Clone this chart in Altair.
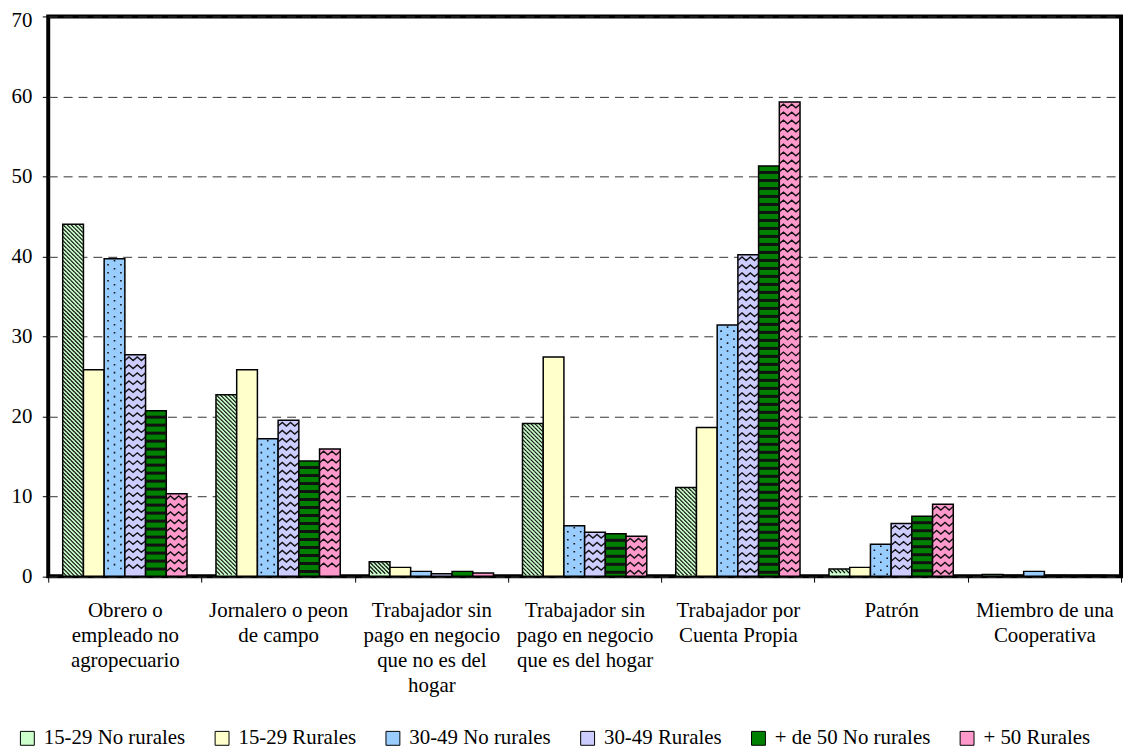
import altair as alt
import pandas as pd

# ---------------- data ----------------
categorias = [
    "Obrero o|empleado no|agropecuario",
    "Jornalero o peon|de campo",
    "Trabajador sin|pago en negocio|que no es del|hogar",
    "Trabajador sin|pago en negocio|que es del hogar",
    "Trabajador por|Cuenta Propia",
    "Patrón",
    "Miembro de una|Cooperativa",
]
series = ["15-29 No rurales", "15-29 Rurales", "30-49 No rurales",
          "30-49 Rurales", "+ de 50 No rurales", "+ 50 Rurales"]

v_15_29_no_rurales = [44.0, 22.7, 1.8, 19.1, 11.1, 0.9, 0.2]
v_15_29_rurales = [25.8, 25.8, 1.1, 27.4, 18.6, 1.1, 0.1]
v_30_49_no_rurales = [39.7, 17.2, 0.6, 6.3, 31.4, 4.0, 0.6]
v_30_49_rurales = [27.7, 19.5, 0.3, 5.5, 40.2, 6.6, 0.1]
v_50_no_rurales = [20.7, 14.4, 0.6, 5.3, 51.3, 7.5, 0.1]
v_50_rurales = [10.3, 15.9, 0.4, 5.0, 59.3, 9.0, 0.1]

valores = [v_15_29_no_rurales, v_15_29_rurales, v_30_49_no_rurales,
           v_30_49_rurales, v_50_no_rurales, v_50_rurales]

colores = ["#ccffcc", "#ffffcc", "#99ccff", "#ccccff", "#008000", "#ff99cc"]
patrones = ["hatch", None, "dots", "zigzag", "stripes", "zigzag"]
alto_fila = {"hatch": 0.5, "dots": 1.0, "zigzag": 1.0, "stripes": 1.0}

# ---------------- tables ----------------
df = pd.DataFrame([
    {"Categoria": c, "Serie": s, "valor": v}
    for s, vals in zip(series, valores)
    for c, v in zip(categorias, vals)
])

# texture rows (anchored at each bar's top) used to imitate the fill patterns
tex_rows = []
for s, vals, p in zip(series, valores, patrones):
    if p is None:
        continue
    rh = alto_fila[p]
    for c, v in zip(categorias, vals):
        k = 0
        while v - rh * (k + 1) >= -1e-9:
            tex_rows.append({"Categoria": c, "Serie": s,
                             "fila": v - rh * (k + 0.5), "patron": p})
            k += 1
tex = pd.DataFrame(tex_rows)

# ---------------- geometry / style ----------------
W, H = 1080, 563.5
PAD_OUT = 0.7
step = W / len(categorias)
bar_w = step / (len(series) + 2 * PAD_OUT)
row_px = H / 70.0
half = bar_w / 2.0
hh = (row_px / 2.0) / half          # half of a 1-unit row, in shape units
sym_size = bar_w ** 2


def fmt(v):
    return f"{v:.4f}"


# diagonal hatch "\\\" in one row of half-height h
def hatch_path(h, period):
    parts = []
    x0 = -1 - 2 * h
    while x0 < 1:
        t0 = max(0.0, (-1 - x0) / (2 * h))
        t1 = min(1.0, (1 - x0) / (2 * h))
        if t1 > t0:
            xa, ya = x0 + t0 * 2 * h, -h + t0 * 2 * h
            xb, yb = x0 + t1 * 2 * h, -h + t1 * 2 * h
            parts.append(f"M {fmt(xa)} {fmt(ya)} L {fmt(xb)} {fmt(yb)}")
        x0 += period
    return " ".join(parts)


def square(cx, cy, s):
    return (f"M {fmt(cx - s/2)} {fmt(cy - s/2)} h {fmt(s)} v {fmt(s)} "
            f"h {fmt(-s)} Z")


hh_h = hh * alto_fila["hatch"]
hatch = hatch_path(hh_h, 2 * hh_h)

dot = 1.6 / half
dots_path = " ".join([
    square(0, -hh * 0.5, dot),
    square(-0.62, hh * 0.5, dot),
    square(0.62, hh * 0.5, dot),
])

amp = 1.8 / half
zz_pts = [-1, -0.6, -0.2, 0.2, 0.6, 1.0]
zigzag_path = "M " + " L ".join(
    f"{fmt(x)} {fmt(amp if i % 2 == 0 else -amp)}" for i, x in enumerate(zz_pts)
)

st = 3.0 / half
stripes_path = f"M -1 {fmt(hh - st)} H 1 V {fmt(hh)} H -1 Z"

FONT = "'Liberation Serif', 'Times New Roman', Tinos, 'DejaVu Serif', serif"

x_scale = alt.Scale(domain=categorias, paddingInner=0, paddingOuter=0)
xo_scale = alt.Scale(domain=series, paddingInner=0, paddingOuter=PAD_OUT)
y_scale = alt.Scale(domain=[0, 70], nice=False, zero=True)

x_axis = alt.Axis(
    title=None,
    labelExpr="isString(datum.value) ? split(datum.value, '|') : ''",
    labelAngle=0,
    tickBand="extent", tickSize=6, tickColor="black", tickWidth=1,
    domain=False, grid=False, labelPadding=18, labelFont=FONT,
    labelFontSize=21, labelLineHeight=25, labelLimit=0, labelOverlap=False,
    labelColor="black",
)
y_axis = alt.Axis(
    title=None, values=list(range(0, 71, 10)), grid=True, gridDash=[9, 6],
    gridColor="#333333", gridWidth=1, domain=False, tickSize=6,
    tickColor="black", tickWidth=1, labelPadding=10.5, labelFont=FONT,
    labelFontSize=21, labelColor="black",
    labelOffset={"condition": {"test": "datum.value == 70", "value": 4}, "value": 0},
)

X = alt.X("Categoria:N", scale=x_scale, axis=x_axis)
XO = alt.XOffset("Serie:N", scale=xo_scale)

barras = alt.Chart(df).mark_bar(stroke="black", strokeWidth=1.5).encode(
    x=X,
    xOffset=XO,
    y=alt.Y("valor:Q", scale=y_scale, axis=y_axis),
    color=alt.Color(
        "Serie:N",
        scale=alt.Scale(domain=series, range=colores),
        legend=alt.Legend(
            title=None, orient="none", legendX=-31.5, legendY=716,
            direction="horizontal", columns=6, columnPadding=26,
            symbolType="square", symbolSize=196, symbolStrokeColor="black",
            symbolStrokeWidth=1, symbolOpacity=1, labelFont=FONT,
            labelFontSize=21, labelColor="black", labelOffset=6, labelLimit=0,
            padding=0,
        ),
    ),
)


def textura(nombre, path, filled, width=1.2):
    if filled:
        mk = alt.Chart(tex).mark_point(shape=path, size=sym_size, filled=True,
                                       color="#111111", opacity=1, strokeWidth=0)
    else:
        mk = alt.Chart(tex).mark_point(shape=path, size=sym_size, filled=False,
                                       color="#111111", opacity=1, strokeWidth=width)
    return mk.transform_filter(alt.datum.patron == nombre).encode(
        x=X, xOffset=XO, y=alt.Y("fila:Q", scale=y_scale, axis=y_axis)
    )


capas = [
    barras,
    textura("hatch", hatch, False, 1.2),
    textura("dots", dots_path, True),
    textura("zigzag", zigzag_path, False, 1.4),
    textura("stripes", stripes_path, True),
]

chart = alt.layer(*capas).properties(
    width=W, height=H,
    background="white",
    autosize=alt.AutoSizeParams(type="none"),
    padding={"left": 40.5, "top": 6, "right": 5, "bottom": 172},
).configure_view(stroke="black", strokeWidth=4)

chart.save("out.html", embed_options={"renderer": "svg", "actions": False})
